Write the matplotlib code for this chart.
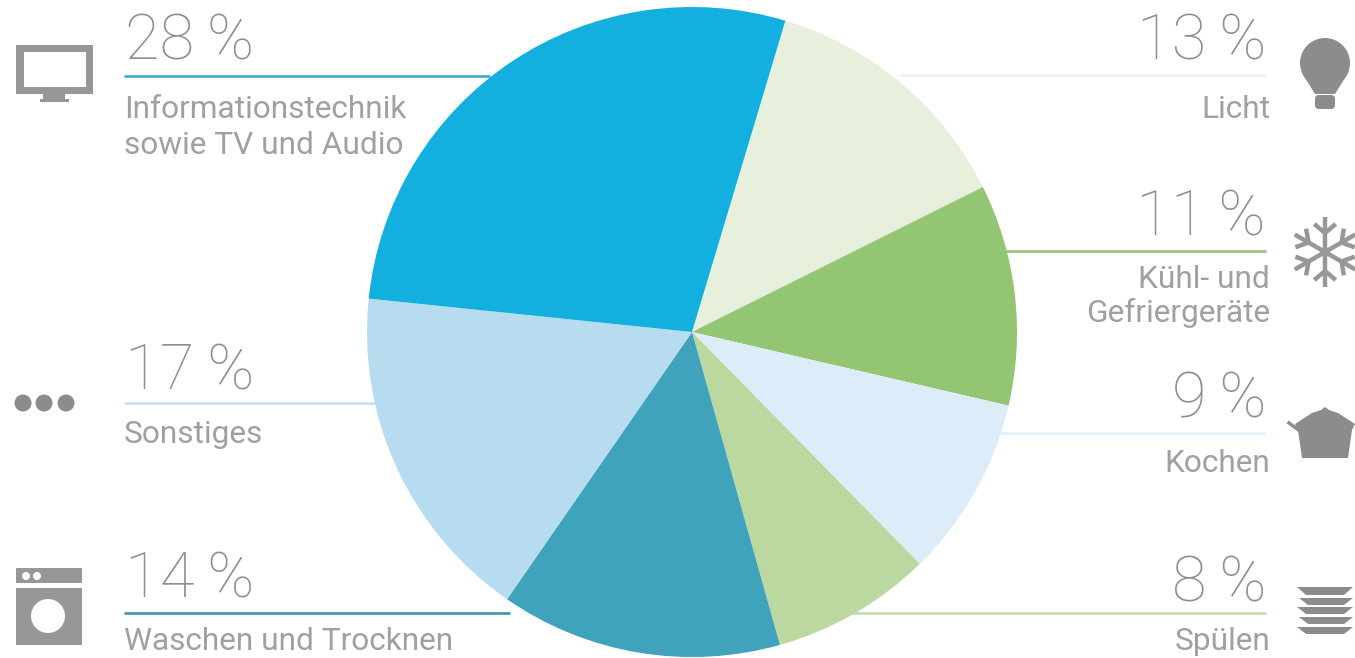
import matplotlib
matplotlib.use('Agg')
import matplotlib.pyplot as plt
from matplotlib.patches import Circle, Polygon, Rectangle, FancyBboxPatch
import numpy as np

W = 1355
H = 658

# clockwise from the top right
names = ['Licht', 'Kühl- und\nGefriergeräte', 'Kochen', 'Spülen',
         'Waschen und Trocknen', 'Sonstiges', 'Informationstechnik\nsowie TV und Audio']
shares = [13, 11, 9, 8, 14, 17, 28]
colors = ['#e6f0dd', '#93c572', '#dcedf9', '#bbd8a0', '#3ea3bb', '#b7dcf0', '#12afdf']
line_colors = ['#edf3e8', '#93c572', '#e2f0f8', '#c3dbb0', '#3f97a8', '#c4e3ee', '#35aed6']

GREY = '#979797'
DARK = '#8c8c8c'
TEXT = '#a0a0a0'
NUM = '#8e8e8e'

plt.rcParams['font.family'] = ['Roboto', 'DejaVu Sans']

fig = plt.figure(figsize=(W / 100, H / 100), dpi=100)
ax = fig.add_axes([0, 0, 1, 1])


def Y(y):
    # layout below is measured from the top edge
    return H - y


# leader line, big number and caption for each slice
layout = {
    'Licht': (900, 75, 60, 118, 'r'),
    'Kühl- und\nGefriergeräte': (1005, 251, 235, 288, 'r'),
    'Kochen': (1000, 433, 418, 472, 'r'),
    'Spülen': (850, 613, 602, 650, 'r'),
    'Waschen und Trocknen': (510, 613, 598, 650, 'l'),
    'Sonstiges': (375, 403, 390, 443, 'l'),
    'Informationstechnik\nsowie TV und Audio': (490, 76, 60, 118, 'l'),
}

for name, share, col in zip(names, shares, line_colors):
    end, line_y, num_y, cap_y, side = layout[name]
    label = f'{share}\u2009%'
    if side == 'l':
        ax.plot([124, end], [Y(line_y), Y(line_y)], color=col, lw=1.9, zorder=1, solid_capstyle='butt')
        ax.text(125, Y(num_y), label, fontsize=45.5, fontweight='light', color=NUM,
                ha='left', va='baseline')
        for i, part in enumerate(name.split('\n')):
            ax.text(124, Y(cap_y + i * 36), part, fontsize=22.8, color=TEXT, ha='left', va='baseline')
    else:
        ax.plot([end, 1266], [Y(line_y), Y(line_y)], color=col, lw=1.9, zorder=1, solid_capstyle='butt')
        ax.text(1266, Y(num_y), label, fontsize=45.5, fontweight='light', color=NUM,
                ha='right', va='baseline')
        for i, part in enumerate(name.split('\n')):
            ax.text(1270, Y(cap_y + i * 34), part, fontsize=22.8, color=TEXT, ha='right', va='baseline')

ax.pie(shares, colors=colors, startangle=73.3, counterclock=False,
       center=(692, Y(332)), radius=325, frame=False,
       wedgeprops={'linewidth': 0, 'zorder': 3})
ax.set_aspect('auto')
ax.set_xlim(0, W)
ax.set_ylim(0, H)
ax.axis('off')

# screen icon
ax.add_patch(Rectangle((16, Y(94)), 77, 49, fc=GREY, ec='none'))
ax.add_patch(Rectangle((24, Y(87)), 62, 35, fc='white', ec='none'))
ax.add_patch(Rectangle((43, Y(99)), 22, 5, fc=GREY, ec='none'))
ax.add_patch(Rectangle((40, Y(102)), 29, 3, fc=GREY, ec='none'))

# three dots
for cx in [23, 44, 66]:
    ax.add_patch(Circle((cx, Y(403)), 8.5, fc=DARK, ec='none'))

# washing machine
ax.add_patch(Rectangle((16, Y(583)), 66, 15, fc=GREY, ec='none'))
ax.add_patch(Rectangle((16, Y(645)), 66, 57, fc=GREY, ec='none'))
ax.add_patch(Circle((48, Y(616)), 17, fc='white', ec='none'))
for cx in [26, 37]:
    ax.add_patch(Circle((cx, Y(576)), 4, fc='white', ec='none'))

# bulb
ax.add_patch(Circle((1325, Y(63)), 25, fc=DARK, ec='none'))
ax.add_patch(Polygon([(1302, Y(73)), (1348, Y(73)), (1335, Y(94)), (1315, Y(94))], fc=DARK, ec='none'))
ax.add_patch(FancyBboxPatch((1319, Y(105)), 12, 6, boxstyle='round,pad=4', fc=DARK, ec='none'))

# snowflake
cx, cy = 1325, Y(252)
arm = 35
for deg in [90, 210, 330, 270, 30, 150]:
    a = np.radians(deg)
    ux, uy = np.cos(a), np.sin(a)
    ax.plot([cx, cx + arm * ux], [cy, cy + arm * uy], color=GREY, lw=3.2, solid_capstyle='butt')
    for off in [-1, 1]:
        b = a + off * np.radians(50)
        sx, sy = cx + 19 * ux, cy + 19 * uy
        ax.plot([sx, sx + 14 * np.cos(b)], [sy, sy + 14 * np.sin(b)], color=GREY, lw=3.2, solid_capstyle='butt')

# pot
ax.add_patch(Polygon([(1295, Y(424)), (1312, Y(413)), (1321, Y(410)), (1325, Y(407)), (1329, Y(410)),
                      (1338, Y(413)), (1355, Y(424)), (1352, Y(430)), (1348, Y(458)), (1302, Y(458)),
                      (1298, Y(430))], fc=DARK, ec='none'))
ax.plot([1289, 1300], [Y(423), Y(431)], color=DARK, lw=2.5)

# stack of plates
for top, bot, x0, x1 in [(587, 595, 1297, 1353), (598, 605, 1299, 1353), (607, 614, 1297, 1353),
                         (617, 624, 1299, 1353), (627, 634, 1297, 1353)]:
    ax.add_patch(Polygon([(x0, Y(top)), (x1, Y(top)), (x1 - 9, Y(bot)), (x0 + 9, Y(bot))], fc=DARK, ec='none'))

fig.savefig('out.png', dpi=100, facecolor='white')
